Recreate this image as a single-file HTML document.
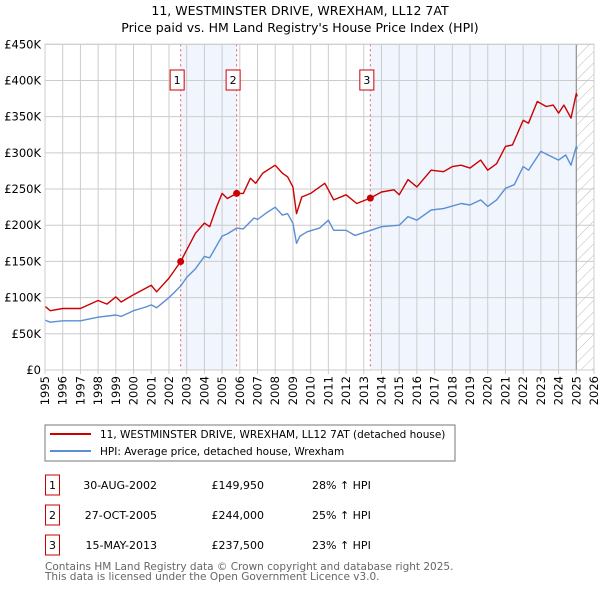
<!DOCTYPE html>
<html><head><meta charset="utf-8"><style>
body{margin:0;background:#fff;font-family:"DejaVu Sans","Liberation Sans",sans-serif;}
svg text{font-family:"DejaVu Sans","Liberation Sans",sans-serif;}
</style></head><body>
<svg id="chart" width="600" height="590" xmlns="http://www.w3.org/2000/svg">
<text x="300" y="15" text-anchor="middle" font-size="12.5" fill="#000">11, WESTMINSTER DRIVE, WREXHAM, LL12 7AT</text>
<text x="300" y="32" text-anchor="middle" font-size="12.5" fill="#000">Price paid vs. HM Land Registry's House Price Index (HPI)</text>
<g id="plot"></g>
<rect x="45" y="425" width="410" height="36" fill="#fff" stroke="#777"/>
<line x1="50" y1="434" x2="91" y2="434" stroke="#cc0000" stroke-width="2"/>
<text x="100" y="438" font-size="10.5">11, WESTMINSTER DRIVE, WREXHAM, LL12 7AT (detached house)</text>
<line x1="50" y1="451" x2="91" y2="451" stroke="#5b8fd4" stroke-width="2"/>
<text x="100" y="455" font-size="10.5">HPI: Average price, detached house, Wrexham</text>
<g id="table" font-size="11"></g>
<text x="45" y="570" font-size="10.5" fill="#666">Contains HM Land Registry data © Crown copyright and database right 2025.</text>
<text x="45" y="580" font-size="10.5" fill="#666">This data is licensed under the Open Government Licence v3.0.</text>
</svg>
<script>
const hpiYears=[1995,1995.3,1996,1997,1998,1999,1999.3,2000,2000.7,2001,2001.3,2002,2002.66,2003,2003.5,2004,2004.3,2005,2005.3,2005.82,2006.2,2006.8,2007,2007.5,2008,2008.4,2008.7,2009,2009.2,2009.4,2009.8,2010.5,2011,2011.3,2012,2012.5,2013.4,2014,2015,2015.5,2016,2016.8,2017.5,2018.5,2019,2019.6,2020,2020.5,2021,2021.5,2022,2022.3,2023,2023.5,2024,2024.4,2024.7,2025,2025.05];
const hpiValues=[69,66,68,68,73,76,74,82,87,90,86,100,116,128,140,157,155,185,188,196,195,210,208,217,225,214,216,203,175,185,191,196,207,193,193,186,193,198,200,212,207,221,223,230,228,235,226,235,251,256,281,276,302,296,290,297,283,309,305];
const ppYears=[1995,1995.3,1996,1997,1998,1998.5,1999,1999.3,2000,2001,2001.3,2002,2002.66,2003,2003.5,2004,2004.3,2004.7,2005,2005.3,2005.82,2006.2,2006.6,2006.9,2007.3,2008,2008.4,2008.7,2009,2009.2,2009.5,2010,2010.8,2011,2011.3,2012,2012.6,2013.37,2014,2014.7,2015,2015.5,2016,2016.8,2017.5,2018,2018.5,2019,2019.6,2020,2020.5,2021,2021.4,2022,2022.3,2022.8,2023.3,2023.7,2024,2024.3,2024.7,2025,2025.05];
const ppValues=[88,82,85,85,96,91,101,94,104,117,108,127,149.95,166,189,203,198,226,244,237,244,244,265,258,272,283,272,267,253,216,239,244,258,249,235,242,230,237.5,246,249,242,263,253,276,274,281,283,279,290,276,285,309,311,345,341,371,364,366,355,366,348,382,378];
const saleYears=[2002.66,2005.82,2013.37];
const saleValues=[149.95,244.0,237.5];
const saleDates=["30-AUG-2002","27-OCT-2005","15-MAY-2013"];
const salePrices=["£149,950","£244,000","£237,500"];
const saleDiffs=["28% ↑ HPI","25% ↑ HPI","23% ↑ HPI"];
const yTicks=[0,50,100,150,200,250,300,350,400,450];
const yTickLabels=["£0","£50K","£100K","£150K","£200K","£250K","£300K","£350K","£400K","£450K"];
const xTicks=[1995,1996,1997,1998,1999,2000,2001,2002,2003,2004,2005,2006,2007,2008,2009,2010,2011,2012,2013,2014,2015,2016,2017,2018,2019,2020,2021,2022,2023,2024,2025,2026];

const X0=45,X1=594,Y0=370,Y1=44.3;
const xs=y=>X0+(y-1995)/(2026-1995)*(X1-X0);
const ys=v=>Y0-v/450*(Y0-Y1);
const NS="http://www.w3.org/2000/svg";
const plot=document.getElementById('plot');
function mk(tag,attrs,parent){const e=document.createElementNS(NS,tag);for(const k in attrs)e.setAttribute(k,attrs[k]);(parent||plot).appendChild(e);return e;}

let e;
e=mk('rect',{x:X0,y:Y1,width:X1-X0,height:Y0-Y1,fill:'#fff'});


e=mk('rect',{x:xs(saleYears[0]),y:Y1,width:xs(saleYears[1])-xs(saleYears[0]),height:Y0-Y1,fill:'#eef3fc',opacity:0.8});


e=mk('rect',{x:xs(saleYears[2]),y:Y1,width:xs(2025.0)-xs(saleYears[2]),height:Y0-Y1,fill:'#eef3fc',opacity:0.8});


const defs=mk('defs',{});
const pat=mk('pattern',{id:'hatch',width:8,height:8,patternUnits:'userSpaceOnUse',patternTransform:'rotate(45)'},defs);
mk('line',{x1:0,y1:0,x2:0,y2:8,stroke:'#bbb','stroke-width':1},pat);
e=mk('rect',{x:xs(2025.0),y:Y1,width:X1-xs(2025.0),height:Y0-Y1,fill:'url(#hatch)'});


yTicks.forEach((t,i)=>{
  const g=mk('line',{x1:X0,x2:X1,y1:ys(t),y2:ys(t),stroke:'#ccc','stroke-width':1});
  
  
  const l=mk('text',{x:X0-4,y:ys(t)+4,'text-anchor':'end','font-size':11.5});
  l.textContent=yTickLabels[i];
  
  
});
xTicks.forEach(t=>{
  const g=mk('line',{x1:xs(t),x2:xs(t),y1:Y1,y2:Y0+4,stroke:'#ccc','stroke-width':1});
  
  
  const l=mk('text',{x:0,y:0,'text-anchor':'end','font-size':11.5,transform:`translate(${xs(t)+4},${Y0+6}) rotate(-90)`});
  l.textContent=t;
  
  
});
e=mk('line',{x1:xs(2025.0),x2:xs(2025.0),y1:Y1,y2:Y0,stroke:'#888','stroke-width':1});


saleYears.forEach((y,i)=>{
  const v=mk('line',{x1:xs(y),x2:xs(y),y1:Y1,y2:Y0,stroke:'#e06060','stroke-width':1,'stroke-dasharray':'2,3'});
  
  
  const b=mk('rect',{x:xs(y)-10.5,y:70,width:14,height:20,fill:'#fff',stroke:'#cc0000','stroke-width':1});
  
  
  const t=mk('text',{x:xs(y)-3.5,y:84,'text-anchor':'middle','font-size':11});
  t.textContent=i+1;
  
  
});
function pts(xa,va){return xa.map((y,i)=>xs(y).toFixed(1)+','+ys(va[i]).toFixed(1)).join(' ');}
e=mk('polyline',{points:pts(hpiYears,hpiValues),fill:'none',stroke:'#5b8fd4','stroke-width':1.4,'stroke-linejoin':'round'});


e=mk('polyline',{points:pts(ppYears,ppValues),fill:'none',stroke:'#cc0000','stroke-width':1.4,'stroke-linejoin':'round'});


saleYears.forEach((y,i)=>{
  const c=mk('circle',{cx:xs(y),cy:ys(saleValues[i]),r:3.5,fill:'#cc0000'});
  
  
});
e=mk('rect',{x:X0,y:Y1,width:X1-X0,height:Y0-Y1,fill:'none',stroke:'#ccc'});



const tbl=document.getElementById('table');
saleYears.forEach((y,i)=>{
  const cy=483+i*30;
  const b=mk('rect',{x:45.5,y:cy-8,width:14,height:20,fill:'#fff',stroke:'#cc0000'},tbl);
  
  
  const n=mk('text',{x:52.5,y:cy+6,'text-anchor':'middle'},tbl);n.textContent=i+1;
  
  
  const d=mk('text',{x:157,y:cy+6,'text-anchor':'end'},tbl);d.textContent=saleDates[i];
  
  
  const p=mk('text',{x:264,y:cy+6,'text-anchor':'end'},tbl);p.textContent=salePrices[i];
  
  
  const h=mk('text',{x:312,y:cy+6},tbl);h.textContent=saleDiffs[i];
  
  
});
</script>
</body></html>
